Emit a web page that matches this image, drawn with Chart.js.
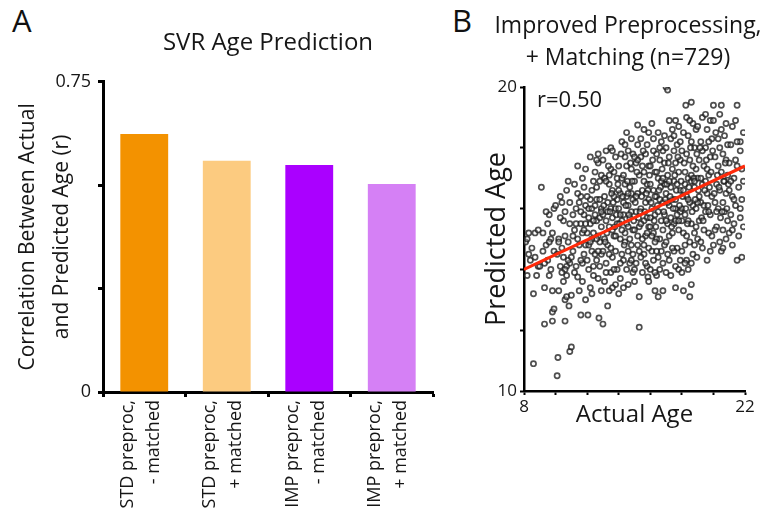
<!DOCTYPE html>
<html lang="en">
<head>
    <meta charset="UTF-8">
    <title>SVR Age Prediction</title>
    <script src="https://cdn.jsdelivr.net/npm/chart.js"></script>
    <style>
        body { margin: 0; background: #fff; width: 771px; height: 519px; position: relative; overflow: hidden; }
        .panel { position: absolute; top: 0; }
        .letter { position: absolute; font-family: "Open Sans", sans-serif; font-size: 31px; line-height: 1; color: #111; }
    </style>
</head>
<body>
    <div class="letter" style="left: 12px; top: 5px;">A</div>
    <div class="letter" style="left: 452px; top: 5px;">B</div>
    <canvas id="barChart" class="panel" style="left: 0;" width="450" height="519"></canvas>
    <!-- a bit wider than the page so the two-line title has room -->
    <canvas id="scatterChart" class="panel" style="left: 450px;" width="351" height="519"></canvas>

    <script>
        // ---- Panel A data
        const barTitle = 'SVR Age Prediction';
        const barCategories = [
            ['STD preproc,', '- matched'],
            ['STD preproc,', '+ matched'],
            ['IMP preproc,', '- matched'],
            ['IMP preproc,', '+ matched']
        ];
        const barValues = [0.624, 0.559, 0.549, 0.503];
        const barTickLabels = [0, 0.75];

        // ---- Panel B data
        const scatterTitle = ['Improved Preprocessing,', '+ Matching (n=729)'];
        const rLabel = 'r=0.50';
        const fitLine = [[8, 14.0], [22, 17.4]];
        const ageTickLabels = [8, 22];
        const predTickLabels = [10, 20];
        // [actual age, predicted age]
        const scatterPoints = [
            [8.1,14.9],[8.2,13.8],[8.3,15.2],[8.4,14.3],[8.5,14.7],[8.6,13.2],[8.6,10.9],[8.7,15.2],[8.8,13.8],[8.9,14.1],[8.3,14.5],[8.9,15.3],[8.7,14.4],[8.2,15.0],
            [9.1,16.7],[9.2,15.2],[9.3,12.2],[9.3,13.4],[9.4,14.8],[9.5,14.3],[9.6,15.8],[9.7,14.0],[9.8,15.2],[9.8,12.3],[9.8,12.6],[9.9,12.7],[9.8,13.3],[9.5,15.5],[9.2,14.6],[9.6,13.8],[9.9,14.6],[9.4,15.9],[9.0,14.1],[9.7,15.0],[9.9,16.0],[9.3,14.2],[9.6,14.9],
            [10.0,16.1],[10.1,10.5],[10.15,11.1],[10.2,13.3],[10.5,15.6],[10.6,12.3],[10.6,13.0],[10.7,13.1],[10.85,12.8],[10.9,11.3],[11.0,11.45],[10.3,16.4],[10.4,16.2],[10.7,16.6],[10.8,16.9],[10.2,15.0],[10.4,14.7],[10.5,14.4],[10.6,15.1],[10.8,14.9],[10.9,15.5],[10.3,14.1],[10.1,14.5],[10.7,13.8],[10.9,14.2],[10.5,13.6],[10.3,15.7],[10.6,15.9],[10.9,16.2],[10.7,14.1],[10.8,14.3],[10.6,14.0],[10.2,14.9],[10.4,13.9],
            [11.0,13.15],[11.1,14.6],[11.2,15.3],[11.3,16.0],[11.4,17.4],[11.4,13.75],[11.5,13.3],[11.6,12.5],[11.9,17.3],[11.9,13.0],[11.7,14.2],[11.8,15.8],[11.6,16.4],[11.2,16.8],[11.3,14.1],[11.5,14.8],[11.7,15.2],[11.1,15.8],[11.8,14.5],[11.4,15.0],[11.6,15.5],[11.9,16.1],[11.2,13.9],[11.5,16.2],[11.7,13.6],[11.3,15.5],[11.8,16.7],[11.0,14.4],[11.6,14.3],[11.9,14.8],[11.4,16.5],[11.1,15.1],[11.7,17.0],
            [12.05,12.5],[12.2,17.7],[12.2,13.4],[12.7,17.8],[12.7,17.5],[12.75,12.4],[12.9,13.3],[12.1,14.0],[12.3,14.6],[12.4,15.2],[12.5,15.8],[12.6,16.3],[12.8,16.9],[12.1,16.0],[12.3,16.6],[12.4,13.8],[12.6,14.3],[12.8,14.9],[12.9,15.4],[12.2,15.5],[12.5,17.2],[12.7,13.7],[12.3,15.0],[12.6,15.6],[12.9,16.0],[12.4,16.9],[12.8,14.1],[12.1,14.8],[12.5,14.5],[12.7,15.1],[12.9,17.1],[12.2,16.3],[12.6,16.7],[12.4,14.1],[12.8,15.7],[12.3,13.2],[12.9,14.5],[12.0,15.2],
            [13.0,12.2],[13.3,12.8],[13.4,13.3],[13.0,17.6],[13.2,17.9],[13.5,18.0],[13.8,17.7],[13.1,13.6],[13.2,14.2],[13.3,14.8],[13.4,15.4],[13.5,16.0],[13.6,16.6],[13.7,17.2],[13.9,14.0],[13.8,14.6],[13.7,15.1],[13.6,15.7],[13.5,13.9],[13.9,16.3],[13.1,15.0],[13.2,15.6],[13.3,16.2],[13.4,16.8],[13.6,14.4],[13.8,13.5],[13.0,14.6],[13.9,15.5],[13.1,16.4],[13.5,17.3],[13.7,14.0],[13.2,13.9],[13.4,17.1],[13.8,16.0],[13.6,13.4],[13.3,15.9],[13.9,17.0],[13.0,15.8],[13.5,14.7],[13.7,16.4],[13.1,17.0],[13.6,15.3],
            [14.0,13.2],[14.2,18.2],[14.5,18.5],[14.8,18.3],[14.1,13.7],[14.3,14.3],[14.4,14.9],[14.5,15.5],[14.6,16.1],[14.7,16.7],[14.8,17.3],[14.9,17.8],[14.1,15.0],[14.2,15.6],[14.3,16.2],[14.4,16.8],[14.5,17.4],[14.6,13.5],[14.7,14.2],[14.8,14.8],[14.9,15.3],[14.0,16.0],[14.2,17.0],[14.4,17.7],[14.6,14.6],[14.8,15.9],[14.1,16.5],[14.3,13.4],[14.5,14.0],[14.7,15.0],[14.9,16.3],[14.0,17.4],[14.3,17.1],[14.6,17.9],[14.9,13.9],[14.2,14.5],[14.4,15.2],[14.7,15.7],[14.8,16.5],[14.1,14.2],[14.5,16.4],[14.9,14.5],[14.3,15.8],[14.6,15.4],
            [15.3,12.1],[15.3,13.1],[15.85,13.75],[15.2,18.75],[15.6,18.6],[15.9,18.5],[15.0,13.6],[15.1,14.2],[15.2,14.8],[15.3,15.4],[15.4,16.0],[15.5,16.6],[15.6,17.2],[15.7,17.8],[15.8,14.1],[15.9,14.7],[15.0,15.3],[15.1,15.9],[15.2,16.5],[15.3,17.1],[15.4,17.7],[15.5,13.9],[15.6,14.5],[15.7,15.1],[15.8,15.7],[15.9,16.3],[15.0,16.9],[15.1,17.5],[15.2,18.1],[15.4,14.4],[15.5,15.0],[15.6,15.6],[15.7,16.2],[15.8,16.8],[15.9,17.4],[15.0,14.0],[15.3,14.6],[15.6,16.9],[15.9,15.4],[15.1,16.4],[15.4,15.5],[15.7,14.2],[15.2,17.6],[15.5,17.4],[15.8,18.1],
            [16.1,18.8],[16.3,13.3],[16.5,13.1],[16.8,13.3],[16.0,14.0],[16.1,14.6],[16.2,15.2],[16.3,15.8],[16.4,16.4],[16.5,17.0],[16.6,17.6],[16.7,18.2],[16.8,14.2],[16.9,14.8],[16.0,15.4],[16.1,16.0],[16.2,16.6],[16.3,17.2],[16.4,17.8],[16.5,14.4],[16.6,15.0],[16.7,15.6],[16.8,16.2],[16.9,16.8],[16.0,17.4],[16.2,18.3],[16.4,13.8],[16.6,14.0],[16.8,15.3],[16.9,17.5],[16.1,15.1],[16.3,16.4],[16.5,15.9],[16.7,16.9],[16.9,15.8],[16.2,14.3],[16.4,15.0],[16.6,16.3],[16.8,17.9],[16.0,16.8],[16.3,14.9],[16.5,18.5],[16.7,14.6],[16.9,18.4],[16.4,17.2],
            [17.0,20.0],[17.1,19.9],[17.6,13.4],[17.0,13.9],[17.1,14.5],[17.2,15.1],[17.3,15.7],[17.4,16.3],[17.5,16.9],[17.6,17.5],[17.7,18.1],[17.8,18.7],[17.9,14.3],[17.0,14.9],[17.1,15.5],[17.2,16.1],[17.3,16.7],[17.4,17.3],[17.5,17.9],[17.6,14.1],[17.7,14.7],[17.8,15.3],[17.9,15.9],[17.0,16.5],[17.1,17.1],[17.2,17.7],[17.3,18.3],[17.5,14.6],[17.7,15.8],[17.9,16.6],[17.2,14.3],[17.4,15.2],[17.6,16.0],[17.8,17.2],[17.0,18.0],[17.3,13.8],[17.5,15.5],[17.7,16.8],[17.9,17.6],[17.1,16.2],[17.4,18.6],[17.6,18.9],[17.8,14.0],[17.2,18.9],[17.5,18.4],[17.6,15.6],
            [18.1,13.3],[18.5,13.1],[18.6,13.5],[18.3,14.3],[18.95,14.4],[18.25,19.4],[18.6,19.5],[18.0,14.6],[18.1,15.2],[18.2,15.8],[18.3,16.4],[18.4,17.0],[18.5,17.6],[18.6,18.2],[18.7,18.8],[18.8,14.8],[18.9,15.4],[18.0,16.0],[18.1,16.6],[18.2,17.2],[18.3,17.8],[18.4,18.4],[18.5,14.9],[18.6,15.5],[18.7,16.1],[18.8,16.7],[18.9,17.3],[18.0,17.9],[18.2,14.2],[18.4,15.6],[18.6,16.9],[18.8,18.0],[18.1,18.5],[18.3,15.1],[18.5,16.2],[18.7,17.4],[18.9,18.6],[18.0,13.9],[18.4,14.0],[18.7,14.5],[18.9,16.0],[18.2,16.8],[18.6,17.1],[18.8,15.2],[18.3,19.0],
            [19.3,14.7],[19.6,14.3],[19.8,14.6],[19.3,19.0],[19.5,19.1],[19.0,15.0],[19.1,15.6],[19.2,16.2],[19.3,16.8],[19.4,17.4],[19.5,18.0],[19.6,18.6],[19.7,15.2],[19.8,15.8],[19.9,16.4],[19.0,17.0],[19.1,17.6],[19.2,18.2],[19.4,15.3],[19.5,15.9],[19.6,16.5],[19.7,17.1],[19.8,17.7],[19.9,18.3],[19.0,18.7],[19.2,14.9],[19.4,16.1],[19.6,17.3],[19.8,18.9],[19.1,16.4],[19.3,17.9],[19.5,16.9],[19.7,15.9],[19.9,15.1],[19.0,16.2],[19.2,17.0],[19.7,18.2],[20.0,19.4],
            [20.0,14.8],[20.2,15.4],[20.3,16.0],[20.4,16.6],[20.5,17.2],[20.5,19.4],[20.6,17.8],[20.7,18.4],[20.8,15.0],[20.9,15.6],[20.1,16.2],[20.2,16.8],[20.3,17.4],[20.4,18.0],[20.5,18.6],[20.6,15.3],[20.7,15.9],[20.8,16.5],[20.9,17.1],[20.1,17.7],[20.3,18.3],[20.5,14.6],[20.7,16.9],[20.9,18.1],[20.2,15.9],[20.4,14.9],[20.6,16.2],[20.8,17.6],[20.0,18.9],[20.4,19.1],[20.1,15.3],[20.6,14.7],[20.8,18.8],
            [21.5,19.4],[21.9,18.5],[21.7,18.2],[21.5,14.3],[21.8,14.4],[21.0,15.2],[21.1,15.8],[21.2,16.4],[21.3,17.0],[21.4,17.6],[21.5,18.2],[21.6,15.1],[21.7,15.7],[21.8,16.3],[21.9,16.9],[21.0,17.5],[21.1,18.1],[21.2,18.7],[21.3,15.5],[21.4,16.1],[21.6,16.7],[21.8,17.3],[21.0,16.6],[21.2,14.8],[21.4,18.9],[21.7,17.9],[21.9,15.4],
            // denser core of the cloud
            [11.6,15.9],[11.8,15.3],[12.0,16.4],[12.2,14.9],[12.4,15.6],[12.6,15.0],[12.8,16.3],[12.3,16.0],[12.7,14.6],[12.1,15.7],[11.9,15.5],[12.5,16.1],[12.9,15.9],[12.0,14.3],[12.6,17.6],
            [13.05,16.1],[13.25,15.2],[13.45,15.9],[13.65,16.2],[13.85,15.8],[13.15,14.9],[13.35,17.4],[13.55,16.5],[13.75,15.4],[13.95,16.8],[14.05,15.5],[14.25,16.4],[14.45,16.1],[14.65,15.8],[14.85,16.9],[14.15,17.8],[14.35,14.8],[14.55,16.9],[14.75,17.5],[14.95,15.6],[13.4,14.5],[13.8,15.1],[14.2,15.3],[14.6,16.5],[14.0,16.6],[13.6,17.9],[14.4,18.1],[14.8,14.3],[13.2,16.9],[14.1,15.8],
            [15.05,16.2],[15.25,15.7],[15.45,16.4],[15.65,15.9],[15.85,16.6],[15.15,17.2],[15.35,15.9],[15.55,17.9],[15.75,16.5],[15.95,17.1],[16.05,16.2],[16.25,15.6],[16.45,16.1],[16.65,16.7],[16.85,15.9],[16.15,17.6],[16.35,15.4],[16.55,16.6],[16.75,17.3],[16.95,16.3],[15.2,15.1],[15.6,14.8],[16.0,15.7],[16.4,14.6],[16.8,17.0],[15.4,18.3],[15.8,15.2],[16.2,17.9],[16.6,18.0],[15.0,17.7],[16.3,13.9],[15.9,13.6],
            [17.05,16.8],[17.25,16.4],[17.45,16.0],[17.65,16.6],[17.85,16.1],[17.15,17.5],[17.35,15.4],[17.55,17.1],[17.75,17.7],[17.95,16.9],[18.05,16.4],[18.25,16.0],[18.45,16.7],[18.65,15.9],[18.85,16.3],[18.15,17.5],[18.35,15.5],[18.55,18.0],[18.75,17.0],[18.95,17.8],[17.2,16.9],[17.6,16.3],[18.0,15.6],[18.4,16.3],[18.8,16.9],[17.4,14.7],[17.8,15.6],[18.2,14.8],[18.6,14.2],[17.0,15.6],[17.9,18.2],[18.5,18.9],
            [19.05,16.6],[19.25,15.7],[19.45,16.6],[19.65,16.1],[19.85,17.2],[19.15,18.0],[19.35,15.6],[19.55,17.6],[19.75,16.7],[19.95,17.9],[20.05,16.5],[20.25,17.1],[20.45,15.7],[20.65,16.9],[20.85,16.0],[20.15,18.5],[20.35,16.7],[20.55,15.9],[20.75,17.5],[20.95,16.8],[21.1,16.9],[21.3,16.3],[21.5,17.4],[21.7,16.0],[21.2,15.3]
        ];

        const FONT = '"Open Sans", sans-serif';
        const TEXT = '#161616';
        const barColors = ['#F39200', '#FCCB80', '#AA00FF', '#D580F5'];

        // Panel A: bar chart
        new Chart(document.getElementById('barChart'), {
            type: 'bar',
            data: {
                labels: barCategories,
                datasets: [{
                    data: barValues,
                    backgroundColor: barColors,
                    borderWidth: 0,
                    categoryPercentage: 1,
                    barPercentage: 0.58
                }]
            },
            options: {
                responsive: false,
                animation: false,
                layout: { padding: { left: 0, right: 17, top: 0, bottom: 0 } },
                plugins: {
                    legend: { display: false },
                    tooltip: { enabled: false },
                    title: {
                        display: true,
                        text: barTitle,
                        fullSize: false,
                        color: TEXT,
                        font: { family: FONT, size: 24, weight: 'normal', lineHeight: 1.2 },
                        padding: { top: 29, bottom: 24 }
                    }
                },
                scales: {
                    x: {
                        grid: { drawOnChartArea: false, offset: true, tickLength: 5, tickWidth: 3, tickColor: '#000' },
                        border: { color: '#000', width: 3 },
                        ticks: {
                            autoSkip: false, minRotation: 90, maxRotation: 90,
                            padding: 3, labelOffset: -16.5, color: TEXT,
                            font: { family: FONT, size: 18, lineHeight: 26 / 18 }
                        },
                        afterFit: s => { s.height = 127; }
                    },
                    y: {
                        min: 0, max: 0.75,
                        grid: { drawOnChartArea: false, tickLength: 5, tickWidth: 3, tickColor: '#000' },
                        border: { color: '#000', width: 3 },
                        ticks: {
                            stepSize: 0.25, padding: 7, color: TEXT,
                            font: { family: FONT, size: 18 },
                            callback: v => barTickLabels.includes(v) ? String(v) : ''
                        },
                        title: {
                            display: true,
                            text: ['Correlation Between Actual', 'and Predicted Age (r)'],
                            color: TEXT,
                            font: { family: FONT, size: 21, lineHeight: 34 / 21 },
                            padding: { top: 11, bottom: 0 }
                        },
                        afterFit: s => { s.width = 103; }
                    }
                }
            }
        });

        // text label inside the scatter plot
        const rTextPlugin = {
            id: 'rText',
            afterDatasetsDraw(chart) {
                const ctx = chart.ctx;
                ctx.save();
                ctx.font = '22px ' + FONT;
                ctx.fillStyle = TEXT;
                ctx.textBaseline = 'middle';
                ctx.fillText(rLabel, chart.chartArea.left + 13, chart.chartArea.top + 14);
                ctx.restore();
            }
        };

        // Panel B: scatter + fit line
        new Chart(document.getElementById('scatterChart'), {
            type: 'scatter',
            data: {
                datasets: [{
                    type: 'line',
                    data: fitLine.map(([x, y]) => ({ x, y })),
                    borderColor: '#FF2A0A',
                    borderWidth: 3.2,
                    pointRadius: 0,
                    order: 0
                }, {
                    type: 'scatter',
                    data: scatterPoints.map(([x, y]) => ({ x, y })),
                    pointRadius: 2.6,
                    borderWidth: 1.7,
                    borderColor: 'rgba(30,30,30,0.78)',
                    backgroundColor: 'rgba(255,255,255,0.3)',
                    order: 1
                }]
            },
            options: {
                responsive: false,
                animation: false,
                layout: { padding: { left: 5, right: 0, top: 0, bottom: 0 } },
                plugins: {
                    legend: { display: false },
                    tooltip: { enabled: false },
                    title: {
                        display: true,
                        text: scatterTitle,
                        color: TEXT,
                        font: { family: FONT, size: 23, weight: 'normal', lineHeight: 32 / 23 },
                        padding: { top: 10, bottom: 13 }
                    }
                },
                scales: {
                    x: {
                        type: 'linear', min: 8, max: 22,
                        grid: { drawOnChartArea: false, tickLength: 4, tickWidth: 2, tickColor: '#000' },
                        border: { color: '#000', width: 2.5 },
                        ticks: {
                            stepSize: 2, padding: 2, color: TEXT,
                            font: { family: FONT, size: 17 },
                            callback: v => ageTickLabels.includes(v) ? String(v) : ''
                        },
                        title: {
                            display: true, text: 'Actual Age', color: TEXT,
                            font: { family: FONT, size: 24, lineHeight: 1.2 },
                            padding: { top: 0, bottom: 89 }
                        },
                        afterFit: s => { s.height = 128; }
                    },
                    y: {
                        min: 10, max: 20,
                        grid: { drawOnChartArea: false, tickLength: 4, tickWidth: 2, tickColor: '#000' },
                        border: { color: '#000', width: 2.5 },
                        ticks: {
                            stepSize: 2, padding: 3, color: TEXT,
                            font: { family: FONT, size: 17 },
                            callback: v => predTickLabels.includes(v) ? String(v) : ''
                        },
                        title: {
                            display: true, text: 'Predicted Age', color: TEXT,
                            font: { family: FONT, size: 27, lineHeight: 1.2 },
                            padding: { top: 26, bottom: 0 }
                        },
                        afterFit: s => { s.width = 69; }
                    },
                    // empty right-hand box: keeps the plot narrow while the title spans wider
                    yRight: {
                        position: 'right',
                        grid: { display: false },
                        border: { display: false },
                        ticks: { display: false },
                        afterFit: s => { s.width = 56; }
                    }
                }
            },
            plugins: [rTextPlugin]
        });
    </script>
</body>
</html>
